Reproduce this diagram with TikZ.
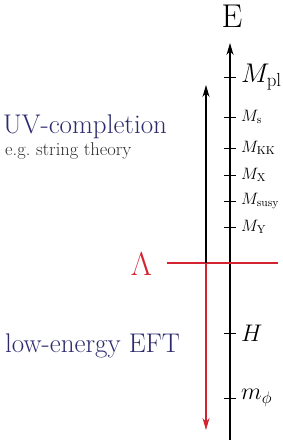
\RequirePackage{fix-cm}
\documentclass[tikz,border=0pt]{standalone}
\usetikzlibrary{arrows.meta}
\definecolor{uvblue}{RGB}{45,42,110}
\definecolor{cutred}{RGB}{212,35,48}
\definecolor{notegray}{RGB}{45,45,45}
\begin{document}
\begin{tikzpicture}[x=1pt, y=-1pt,
    axis/.style={line width=1.1pt, -{Stealth[length=12pt, width=7pt]}},
    redarrow/.style={line width=1.1pt, draw=cutred, -{Stealth[length=12pt, width=7pt]}},
    big/.style={anchor=west, inner sep=0pt, font=\fontsize{24}{28}\selectfont},
    planck/.style={anchor=west, inner sep=0pt, font=\fontsize{27}{30}\selectfont},
    small/.style={anchor=west, inner sep=0pt, font=\fontsize{16.5}{19}\selectfont},
    region/.style={anchor=base west, inner sep=0pt, text=uvblue, font=\fontsize{27}{32}\selectfont}]
    \useasboundingbox (0,0) rectangle (282,440);
    % energy axis
    \coordinate (bot) at (230,440);
    \coordinate (top) at (230,43);
    \draw[axis] (bot) -- (top);
    \node[anchor=base, inner sep=0pt, font=\fontsize{33}{38}\selectfont] (E) at (232,27) {E};
    % scales on the axis
    \foreach \ypos/\name/\lab/\sty in {77/Mpl/{M_{\mathrm{pl}}}/planck,
            117/Ms/{M_{\mathrm{s}}}/small,
            148/MKK/{M_{\mathrm{KK}}}/small, 175/MX/{M_{\mathrm{X}}}/small,
            201/Msusy/{M_{\mathrm{susy}}}/small, 227/MY/{M_{\mathrm{Y}}}/small,
            333/H/{H}/big, 398/mphi/{m_\phi}/big} {
        \draw[line width=0.6pt] (224,\ypos) -- (236,\ypos);
        \node[\sty] (\name) at (241,\ypos) {$\lab$};
    }
    % cutoff
    \coordinate (cutL) at (167,263);
    \coordinate (cutR) at (278,263);
    \coordinate (cut) at (206,263);
    \coordinate (uvtop) at (206,85);
    \coordinate (irbot) at (206,430);
    \draw[line width=1.3pt, cutred] (cutL) -- (cutR);
    \draw[axis] (cut) -- (uvtop);
    \draw[redarrow] (cut) -- (irbot);
    \node[anchor=base, inner sep=0pt, text=cutred, font=\fontsize{33}{38}\selectfont] (lam) at (141.5,275.5) {$\Lambda$};
    % regions
    \node[region] (uv) at (3,133) {UV-completion};
    \node[anchor=base west, inner sep=0pt, text=notegray, font=\fontsize{18.5}{22}\selectfont] (eg) at (5,155) {e.g.\ string theory};
    \node[region] (eft) at (5,352) {low-energy EFT};
\end{tikzpicture}
\end{document}
